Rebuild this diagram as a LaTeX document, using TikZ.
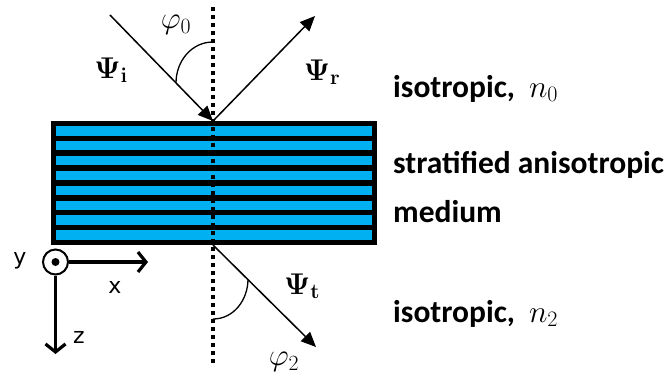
\RequirePackage{fix-cm}
\documentclass[tikz,border=0pt]{standalone}
\usepackage{amsmath,amssymb}
\usepackage[no-math]{fontspec}
\setsansfont{Carlito}
\newfontfamily\axfont{DejaVu Sans}
\usetikzlibrary{arrows.meta,positioning}
\definecolor{bandblue}{HTML}{00B0F0}

\begin{document}
\begin{tikzpicture}[x=1pt, y=-1pt,
  ray/.style={line width=1.5pt, -{Triangle[length=15pt, width=13pt]}},
  axis/.style={line width=3.2pt, -{Straight Barb[length=8pt, width=20pt, line width=3.2pt]}},
  normal/.style={line width=3.5pt, dash pattern=on 3.5pt off 4.5pt},
  ang/.style={line width=1.3pt},
  lab/.style={inner sep=0pt, font=\fontsize{31}{34}\selectfont},
  psi/.style={lab, font=\fontsize{30}{34}\selectfont},
  axlab/.style={inner sep=0pt, font=\axfont\fontsize{22}{26}\selectfont},
  med/.style={anchor=base west, inner sep=0pt,
              font=\sffamily\bfseries\fontsize{31.5}{36}\selectfont}]
\useasboundingbox (0,0) rectangle (672,376);
% layered slab
\node[fill=black, inner sep=0pt, minimum width=326pt, minimum height=124pt,
      anchor=north west] (slab) at (51,121) {};
\foreach \k in {0,...,7}
  \fill[bandblue] (56,{126+14.9*\k}) rectangle (372,{135.5+14.9*\k});
% rays and normal
\coordinate (hit) at (213,121);
\coordinate (exit) at (213,245);
\coordinate (src) at (110,15);
\coordinate (refl) at (315,16);
\coordinate (trans) at (316,347);
\coordinate (ntop) at (213,7);
\coordinate (nbot) at (213,364);
\draw[normal] (ntop) -- (nbot);
\draw[ray] (src) -- (hit);
\draw[ray] (hit) -- (refl);
\draw[ray] (exit) -- (trans);
\coordinate (a0) at (213,42);
\coordinate (b0) at (176,83);
\coordinate (a2) at (213,319);
\coordinate (b2) at (248,279);
\draw[ang] (a0) to[out=180, in=90] (b0);
\draw[ang] (a2) to[out=0, in=-90] (b2);
\node[lab] (phi0) at (176,25) {$\varphi_0$};
\node[lab] (phi2) at (284,362) {$\varphi_2$};
\node[psi] (psii) at (111,70) {$\mathbf{\Psi}_{\mathbf{i}}$};
\node[psi] (psir) at (322,72) {$\mathbf{\Psi}_{\mathbf{r}}$};
\node[psi] (psit) at (302,286) {$\mathbf{\Psi}_{\mathbf{t}}$};
% axes
\node[circle, draw, line width=2pt, minimum size=25pt, inner sep=0pt] (ori) at (55.5,262) {};
\node[circle, fill, minimum size=8pt, inner sep=0pt] (dot) at (ori) {};
\coordinate (xend) at (148,262);
\coordinate (zend) at (55.5,354);
\draw[axis] (ori) -- (xend);
\draw[axis] (ori) -- (zend);
\node[axlab] (ylab) at (20,261) {y};
\node[axlab] (xlab) at (115,287) {x};
\node[axlab] (zlab) at (79,337) {z};
% media
\node[med] (iso0) at (393,97) {isotropic,\hspace{14pt}$n_0$};
\node[med] (strat) at (393,173) {stratified anisotropic};
\node[med] (medium) at (393,222) {medium};
\node[med] (iso2) at (393,322) {isotropic,\hspace{14pt}$n_2$};
\end{tikzpicture}
\end{document}
